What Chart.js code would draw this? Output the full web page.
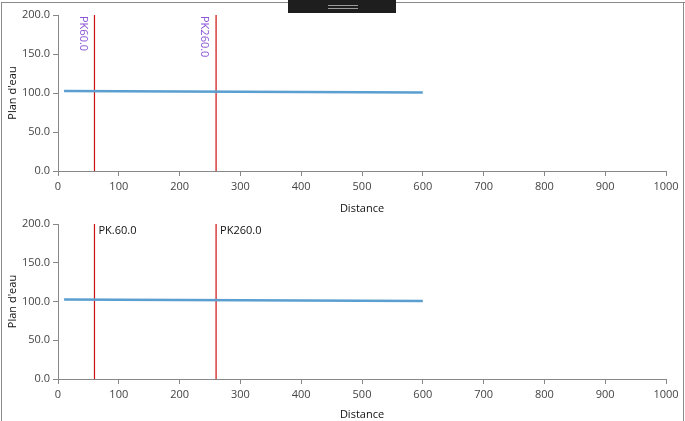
<!DOCTYPE html>
<html>
<head>
<meta charset="utf-8">
<script src="https://cdn.jsdelivr.net/npm/chart.js@4"></script>
<style>
  body { margin: 0; background: #fff; width: 685px; height: 421px; overflow: hidden; position: relative; font-family: "Open Sans", sans-serif; }
  .box { position: absolute; left: 0; width: 685px; }
  .frame { position: absolute; background: #8a8a8a; }
  .grip { position: absolute; left: 288px; top: 0; width: 108px; height: 13px; background: #1e1e1e; }
  .grip div { position: absolute; left: 40px; width: 30px; height: 1px; background: #9a9a9a; }
</style>
</head>
<body>
<div class="box" style="top:0;height:215px"><canvas id="chartTop"></canvas></div>
<div class="box" style="top:210px;height:211px"><canvas id="chartBottom"></canvas></div>
<div class="frame" style="left:1px;top:2px;width:1px;height:419px"></div>
<div class="frame" style="left:1px;top:2px;width:684px;height:1px"></div>
<div class="frame" style="left:683px;top:2px;width:1px;height:419px"></div>
<div class="grip"><div style="top:5px"></div><div style="top:8px"></div></div>
<script>
// Données
const distances = [10, 100, 200, 300, 400, 500, 600];
const niveaux = [102.5, 102.2, 101.8, 101.5, 101.2, 100.9, 100.5];
const pkPositions = [60, 260];
const pkLabelsTop = ['PK60.0', 'PK260.0'];
const pkLabelsBottom = ['PK.60.0', 'PK260.0'];
const yMin = 0, yMax = 200;

const fontFamily = '"Open Sans", sans-serif';

// Plugin pour les étiquettes des PK
function pkLabelPlugin(labels, rotated) {
    return {
        id: 'pkLabels',
        afterDatasetsDraw(chart) {
            const ctx = chart.ctx;
            const xs = chart.scales.x;
            const ys = chart.scales.y;
            ctx.save();
            ctx.font = '11px ' + fontFamily;
            pkPositions.forEach((pk, i) => {
                const px = xs.getPixelForValue(pk);
                const py = ys.getPixelForValue(yMax);
                if (rotated) {
                    ctx.save();
                    ctx.translate(px - 6, py + 1);
                    ctx.rotate(Math.PI / 2);
                    ctx.fillStyle = '#8a55d6';
                    ctx.textAlign = 'left';
                    ctx.textBaseline = 'top';
                    ctx.fillText(labels[i], 0, 0);
                    ctx.restore();
                } else {
                    ctx.fillStyle = '#111';
                    ctx.textAlign = 'left';
                    ctx.textBaseline = 'top';
                    ctx.fillText(labels[i], px + 4, py + 1);
                }
            });
            ctx.restore();
        }
    };
}

function buildChart(canvasId, labels, rotated, padTop, xAxisHeight) {
    const datasets = [{
        label: "Plan d'eau",
        data: distances.map((d, i) => ({ x: d, y: niveaux[i] })),
        borderColor: '#5a9fd0',
        borderWidth: 2.5,
        pointRadius: 0,
        tension: 0
    }];
    pkPositions.forEach(pk => {
        datasets.push({
            label: 'PK' + pk,
            data: [{ x: pk, y: yMin }, { x: pk, y: yMax }],
            borderColor: '#cc1010',
            borderWidth: 1.2,
            pointRadius: 0
        });
    });

    return new Chart(document.getElementById(canvasId), {
        type: 'line',
        data: { datasets: datasets },
        options: {
            responsive: true,
            maintainAspectRatio: false,
            animation: false,
            layout: { padding: { top: padTop, right: 19, left: 0, bottom: 0 } },
            plugins: { legend: { display: false }, tooltip: { enabled: false } },
            scales: {
                x: {
                    type: 'linear',
                    min: 0,
                    max: 1000,
                    afterFit: s => { s.height = xAxisHeight; },
                    ticks: { stepSize: 100, color: '#444', padding: 4, font: { family: fontFamily, size: 11 }, maxRotation: 0, callback: v => String(v) },
                    grid: { drawOnChartArea: false, color: '#888', tickLength: 5 },
                    border: { color: '#888' },
                    title: { display: true, text: 'Distance', color: '#111', padding: { top: 2, bottom: 0 }, font: { family: fontFamily, size: 11 } }
                },
                y: {
                    min: yMin,
                    max: yMax,
                    afterFit: s => { s.width = 58; },
                    ticks: { stepSize: 50, color: '#444', padding: 3, font: { family: fontFamily, size: 11 }, callback: v => v.toFixed(1) },
                    grid: { drawOnChartArea: false, color: '#888', tickLength: 5 },
                    border: { color: '#888' },
                    title: { display: true, text: "Plan d'eau", color: '#111', padding: { top: 6, bottom: 0 }, font: { family: fontFamily, size: 11 } }
                }
            }
        },
        plugins: [pkLabelPlugin(labels, rotated)]
    });
}

buildChart('chartTop', pkLabelsTop, true, 15, 44);
buildChart('chartBottom', pkLabelsBottom, false, 14, 42);
</script>
</body>
</html>
